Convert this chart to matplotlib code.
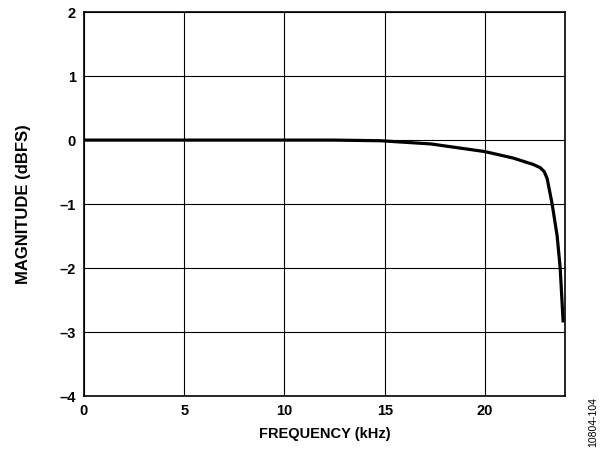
import matplotlib
matplotlib.use('Agg')
import matplotlib.pyplot as plt

plt.rcParams['font.family'] = ['Liberation Sans', 'DejaVu Sans']

freq = [0, 5, 10, 12.5, 14.8, 17.3, 20.0, 21.4, 22.4, 22.75, 22.95, 23.1, 23.35, 23.6, 23.75, 23.9]
mag = [0.0, 0.0, 0.0, 0.0, -0.01, -0.06, -0.18, -0.28, -0.38, -0.43, -0.49, -0.6, -1.0, -1.5, -2.0, -2.85]

xticks = [0, 5, 10, 15, 20]
yticks = [2, 1, 0, -1, -2, -3, -4]

fig = plt.figure(figsize=(6.13, 4.5), dpi=100)
ax = fig.add_axes([0.137, 0.12, 0.785, 0.853])
ax.plot(freq, mag, color='black', linewidth=2.3, solid_capstyle='butt')

ax.set_xlim(0, 24)
ax.set_ylim(-4, 2)
ax.set_xticks(xticks)
ax.set_xticklabels([str(t) for t in xticks])
ax.set_yticks(yticks)
ax.set_yticklabels([str(t).replace('-', '–') for t in yticks])
ax.grid(True, color='black', linewidth=0.8)
ax.tick_params(length=0, labelsize=10.5, pad=6)
for lab in ax.get_xticklabels() + ax.get_yticklabels():
    lab.set_fontweight('bold')
for s in ax.spines.values():
    s.set_linewidth(1.2)

ax.set_xlabel('FREQUENCY (kHz)', fontsize=10.5, fontweight='bold', labelpad=6)
ax.set_ylabel('MAGNITUDE (dBFS)', fontsize=12, fontweight='bold', labelpad=20)
fig.text(0.967, 0.007, '10804-104', rotation=90, fontsize=7.5, ha='center', va='bottom')

fig.savefig('out.png', dpi=100)
